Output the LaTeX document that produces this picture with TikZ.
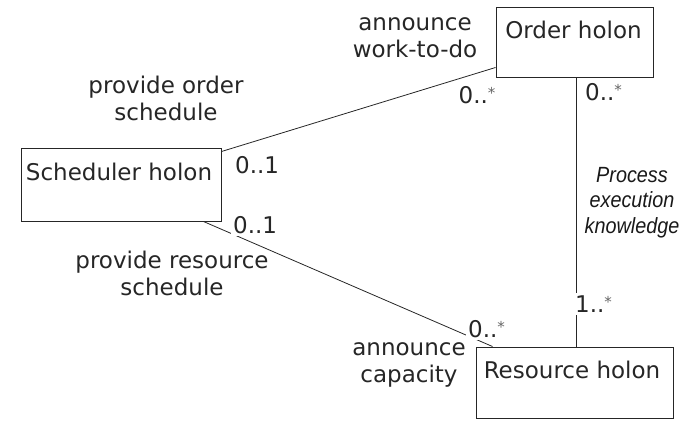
\documentclass[tikz,border=0pt]{standalone}
\usepackage{fontspec}
\setmainfont{DejaVu Sans}
\newfontfamily\procfont[FakeStretch=0.9]{Liberation Sans}
\newcommand\mstar{\raisebox{5pt}{\fontsize{15}{15}\selectfont\color{black!60}*}}
\newcommand\twolines[2]{\begin{tabular}[t]{@{}c@{}}#1\\#2\end{tabular}}
\begin{document}
\begin{tikzpicture}[x=1pt,y=-1pt,
  box/.style={draw=black!85, line width=1pt, inner sep=0pt},
  txt/.style={font=\fontsize{23}{27.5}\selectfont, text=black!85, inner sep=0pt},
  mult/.style={font=\fontsize{23}{27.5}\selectfont, text=black!85, fill=white, inner sep=2.5pt, anchor=base west},
  conn/.style={draw=black!85, line width=0.8pt},
  proc/.style={font=\procfont\itshape\fontsize{22}{25.5}\selectfont, text=black!90, inner sep=0pt, anchor=base}]
\useasboundingbox (0,0) rectangle (680,421);
% boxes
\node[box, minimum width=157pt, minimum height=70pt] (order) at (574.5,42) {};
\node[box, minimum width=200pt, minimum height=73pt] (sched) at (121,184.5) {};
\node[box, minimum width=197pt, minimum height=71pt] (res) at (574.5,382.5) {};
\node[txt, anchor=base] (ordertxt) at (573.5,38) {Order holon};
\node[txt, anchor=base] (schedtxt) at (119,180) {Scheduler holon};
\node[txt, anchor=base] (restxt) at (572,378) {Resource holon};
% connectors
\draw[conn] ([yshift=-4pt]sched.north east) -- ([yshift=10pt]order.south west);
\draw[conn] ([xshift=-18pt]sched.south east) -- ([xshift=17pt]res.north west);
\draw[conn] ([xshift=1.5pt]order.south) -- ([xshift=1.5pt]res.north);
% multiplicities
\node[mult] (m1) at (456,103) {0..\mstar};
\node[mult] (m2) at (582.5,100) {0..\mstar};
\node[mult] (m3) at (232.5,173) {0..1};
\node[mult] (m4) at (230.5,233) {0..1};
\node[mult] (m5) at (572.5,312) {1..\mstar};
\node[mult] (m6) at (465.5,337) {0..\mstar};
% role labels
\node[txt, anchor=base] (l1) at (415,30) {\twolines{announce}{work-to-do}};
\node[txt, anchor=base] (l2) at (166,93) {\twolines{provide order}{schedule}};
\node[txt, anchor=base] (l3) at (172,268) {\twolines{provide resource}{schedule}};
\node[txt, anchor=base] (l4) at (409,355) {\twolines{announce}{capacity}};
\node[proc] (l5) at (632,182) {\begin{tabular}[t]{@{}c@{}}Process\\execution\\knowledge\end{tabular}};
\end{tikzpicture}
\end{document}
